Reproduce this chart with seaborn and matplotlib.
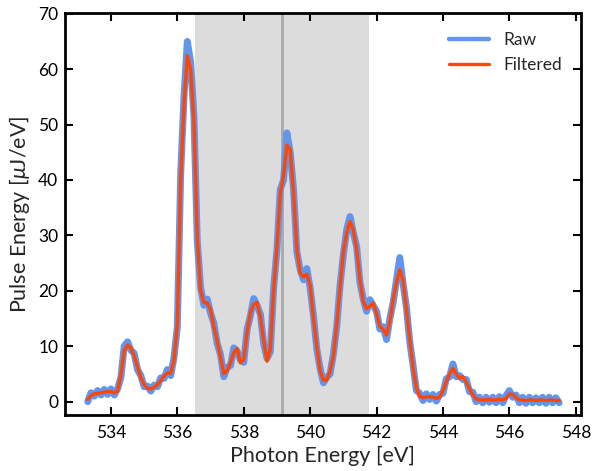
import numpy as np
import pandas as pd
import matplotlib
matplotlib.use("Agg")
import matplotlib.pyplot as plt
import seaborn as sns

# ---- data ----
energy_start = 533.3
energy_step = 0.1
energy_count = 143

filtered = [
    0.4, 1.1, 1.4, 1.5, 1.6, 1.7, 1.8, 1.8, 1.6, 1.9,
    4.8, 9.2, 10.2, 9.7, 8.2, 6.3, 4.3, 3.1, 2.4, 2.3,
    2.6, 3.1, 3.8, 4.6, 5.2, 5.1, 7.5, 14.0, 40.0, 53.5,
    62.4, 60.0, 50.5, 29.5, 20.0, 17.9, 17.8, 16.6, 13.5, 11.0,
    8.0, 5.0, 5.6, 7.0, 8.8, 9.6, 7.0, 7.6, 12.5, 16.0,
    17.6, 17.9, 15.3, 11.0, 7.3, 9.5, 20.0, 28.0, 37.5, 40.8,
    46.3, 45.5, 37.6, 27.5, 23.2, 22.5, 23.0, 21.0, 15.0, 10.0,
    5.5, 3.9, 3.9, 5.5, 8.1, 14.0, 20.5, 27.0, 30.5, 32.5,
    31.0, 27.5, 22.0, 18.0, 16.8, 17.2, 17.8, 15.8, 13.6, 13.0,
    12.0, 14.5, 18.4, 21.5, 23.8, 21.8, 16.5, 11.3, 6.0, 2.5,
    1.0, 0.7, 0.9, 0.9, 0.8, 0.6, 0.8, 2.0, 3.6, 5.0,
    6.0, 5.0, 4.2, 4.5, 3.5, 2.3, 1.2, 0.5, 0.3, 0.3,
    0.3, 0.4, 0.3, 0.3, 0.4, 0.3, 0.6, 1.4, 1.3, 0.7,
    0.3, 0.3, 0.2, 0.3, 0.3, 0.2, 0.3, 0.3, 0.2, 0.3,
    0.3, 0.2, 0.2,
]

raw = [
    0.0, 1.6, 1.0, 2.0, 1.2, 2.2, 1.3, 2.3, 1.2, 2.3,
    4.4, 10.0, 10.8, 9.3, 8.7, 5.8, 4.7, 2.7, 2.8, 1.9,
    3.0, 2.7, 4.3, 4.2, 5.8, 4.7, 8.0, 13.5, 41.0, 55.0,
    65.0, 61.3, 51.5, 29.0, 20.6, 17.4, 18.5, 16.0, 14.1, 10.5,
    8.5, 4.5, 6.2, 6.5, 9.7, 9.1, 7.5, 7.1, 13.0, 15.5,
    18.6, 17.4, 15.8, 10.5, 7.8, 9.0, 20.5, 27.5, 38.3, 40.0,
    48.5, 45.0, 38.3, 27.0, 23.8, 22.0, 24.0, 20.5, 15.5, 9.5,
    6.0, 3.4, 4.4, 5.0, 8.6, 13.5, 21.0, 26.5, 31.0, 33.4,
    30.5, 28.0, 21.5, 18.5, 16.3, 18.4, 17.3, 16.3, 13.1, 13.5,
    11.2, 15.0, 17.9, 22.0, 26.0, 21.3, 17.0, 10.8, 6.5, 2.0,
    1.5, 0.2, 1.4, 0.4, 1.3, 0.1, 1.3, 1.5, 4.1, 4.5,
    6.8, 4.5, 4.7, 4.0, 4.0, 1.8, 1.7, 0.0, 0.8, -0.2,
    0.8, -0.1, 0.8, -0.2, 0.9, -0.2, 1.1, 2.0, 0.8, 1.2,
    -0.2, 0.8, -0.3, 0.8, -0.2, 0.7, -0.2, 0.8, -0.3, 0.8,
    -0.2, 0.7, -0.2,
]

window_center = 539.15
window_half_width = 2.61

x_ticks = [534, 536, 538, 540, 542, 544, 546, 548]
y_ticks = [0, 10, 20, 30, 40, 50, 60, 70]

energy = np.round(energy_start + energy_step * np.arange(energy_count), 2)
df = pd.DataFrame({"energy": energy, "raw": raw, "filtered": filtered})

# ---- style ----
sns.set_style("ticks")
plt.rcParams["font.family"] = ["Lato", "DejaVu Sans"]
plt.rcParams["mathtext.fontset"] = "custom"
plt.rcParams["mathtext.it"] = "Lato:italic"
plt.rcParams["mathtext.rm"] = "Lato"

fig = plt.figure(figsize=(5.92, 4.71), dpi=100)
ax = fig.add_axes([0.110, 0.119, 0.871, 0.853])

ax.axvspan(window_center - window_half_width, window_center + window_half_width,
           color="#dcdcdc", zorder=0, lw=0)
ax.axvline(window_center, color="#a9a9a9", lw=2.0, zorder=1)

sns.lineplot(data=df, x="energy", y="raw", ax=ax, color="#6495ED", lw=5.0,
             label="Raw", estimator=None, zorder=2, solid_joinstyle="round")
sns.lineplot(data=df, x="energy", y="filtered", ax=ax, color="#FF4500", lw=2.4,
             label="Filtered", estimator=None, zorder=3, solid_joinstyle="round")

ax.set_xlim(532.62, 548.15)
ax.set_ylim(-2.4, 70.1)
ax.set_xticks(x_ticks)
ax.set_yticks(y_ticks)
ax.set_xlabel("Photon Energy [eV]", fontsize=15.5, labelpad=4)
ax.set_ylabel("Pulse Energy [$\\mu$J/eV]", fontsize=15.5)

ax.tick_params(axis="both", direction="in", length=6, width=1.5, top=True, right=True,
               labelsize=12.5, colors="black")
ax.tick_params(axis="x", pad=7)
ax.tick_params(axis="y", pad=5)
for s in ax.spines.values():
    s.set_linewidth(2.0)
    s.set_color("black")

leg = ax.legend(loc="upper right", frameon=False, fontsize=12.5,
                handlelength=2.3, borderaxespad=0.7)
leg.get_lines()[0].set_linewidth(3.2)
leg.get_lines()[1].set_linewidth(2.4)

fig.savefig("out.png", dpi=100)
